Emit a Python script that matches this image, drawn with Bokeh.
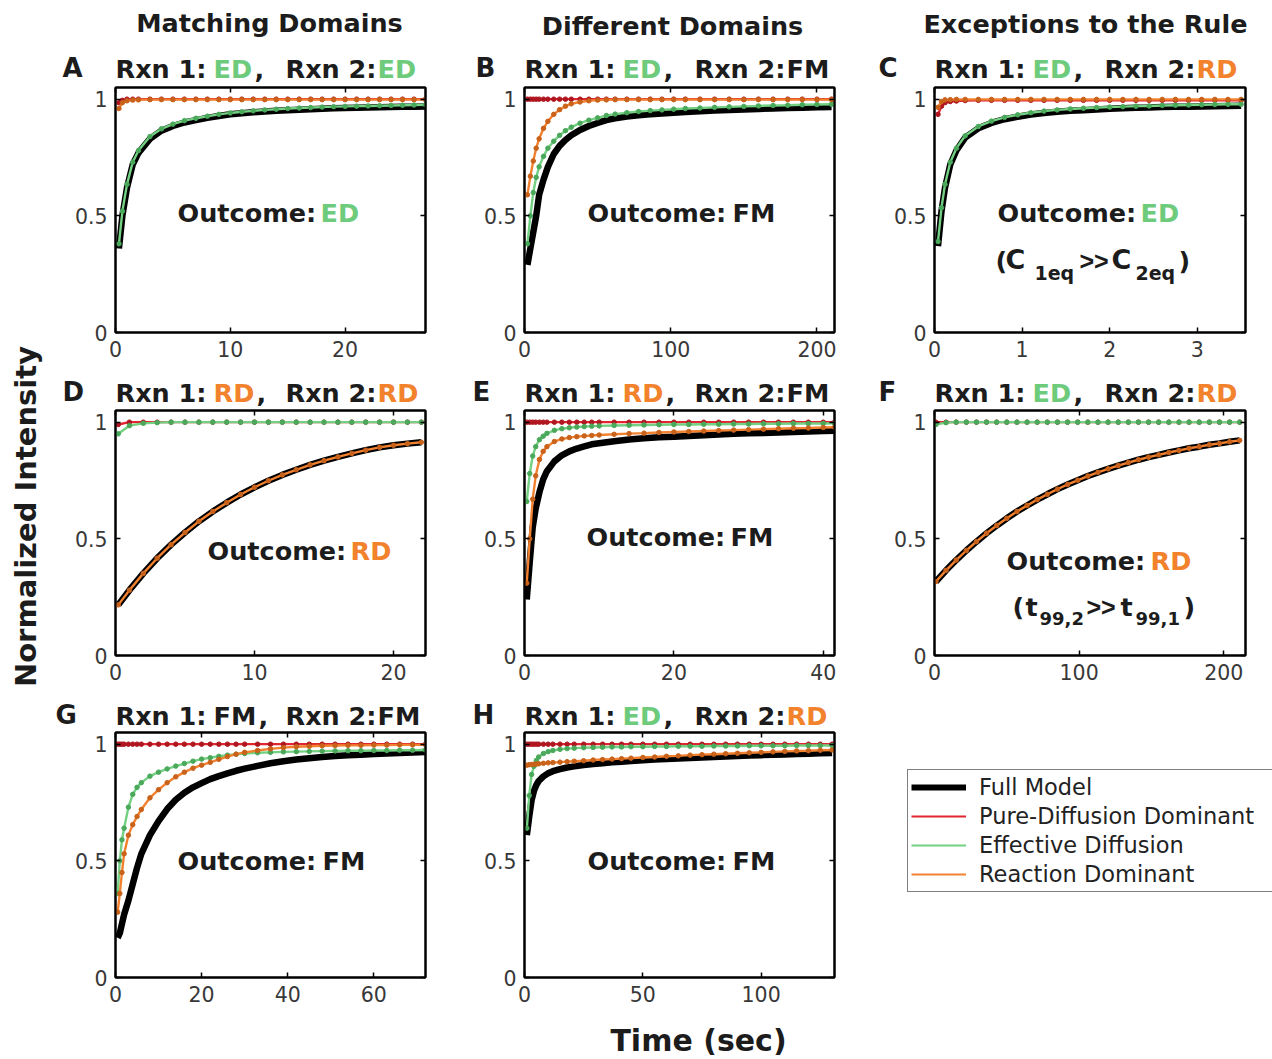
from math import pi
from bokeh.plotting import figure
from bokeh.models import Range1d, FixedTicker, LinearAxis, Label, Legend, LegendItem, Spacer
from bokeh.layouts import row, column
from bokeh.embed import file_html
from bokeh.resources import INLINE

# ---------------- data ----------------
series_names = ["Full Model", "Pure-Diffusion Dominant", "Effective Diffusion", "Reaction Dominant"]
y_ticks = [0, 0.5, 1]

# Panel A
t_A = [0.3, 0.6, 1.0, 1.5, 2, 3, 4, 5, 6, 7, 8, 9, 10, 11, 12, 13, 14, 15, 16, 17, 18, 19, 20, 21, 22, 23, 24, 25, 26, 27]
fm_A = [0.36, 0.50, 0.62, 0.72, 0.77, 0.83, 0.865, 0.885, 0.90, 0.91, 0.92, 0.928, 0.935, 0.94, 0.944, 0.947, 0.95, 0.953, 0.955, 0.957, 0.959, 0.961, 0.962, 0.963, 0.964, 0.965, 0.966, 0.967, 0.968, 0.969]
pd_A = [0.985, 0.995, 1.0, 1.0, 1.0, 1.0, 1.0, 1.0, 1.0, 1.0, 1.0, 1.0, 1.0, 1.0, 1.0, 1.0, 1.0, 1.0, 1.0, 1.0, 1.0, 1.0, 1.0, 1.0, 1.0, 1.0, 1.0, 1.0, 1.0, 1.0]
ed_A = [0.38, 0.52, 0.635, 0.73, 0.78, 0.84, 0.873, 0.893, 0.908, 0.918, 0.927, 0.935, 0.941, 0.946, 0.95, 0.954, 0.957, 0.96, 0.962, 0.964, 0.966, 0.968, 0.969, 0.97, 0.971, 0.972, 0.973, 0.974, 0.975, 0.976]
rd_A = [0.96, 0.985, 0.993, 0.996, 0.997, 0.998, 0.998, 0.998, 0.998, 0.998, 0.998, 0.998, 0.998, 0.998, 0.998, 0.998, 0.998, 0.998, 0.998, 0.998, 0.998, 0.998, 0.998, 0.998, 0.998, 0.998, 0.998, 0.998, 0.998, 0.998]
xticks_A = [0, 10, 20]

# Panel B
t_B = [2, 4, 6, 8, 10, 13, 16, 20, 24, 28, 32, 38, 44, 50, 56, 62, 70, 78, 86, 94, 102, 110, 120, 130, 140, 150, 160, 170, 180, 190, 200, 210]
fm_B = [0.29, 0.36, 0.43, 0.50, 0.59, 0.655, 0.71, 0.765, 0.80, 0.825, 0.845, 0.868, 0.885, 0.898, 0.91, 0.918, 0.926, 0.931, 0.935, 0.939, 0.942, 0.945, 0.948, 0.951, 0.954, 0.956, 0.958, 0.96, 0.962, 0.963, 0.965, 0.966]
pd_B = [1.0, 1.0, 1.0, 1.0, 1.0, 1.0, 1.0, 1.0, 1.0, 1.0, 1.0, 1.0, 1.0, 1.0, 1.0, 1.0, 1.0, 1.0, 1.0, 1.0, 1.0, 1.0, 1.0, 1.0, 1.0, 1.0, 1.0, 1.0, 1.0, 1.0, 1.0, 1.0]
ed_B = [0.38, 0.50, 0.60, 0.665, 0.71, 0.755, 0.79, 0.82, 0.845, 0.865, 0.88, 0.897, 0.91, 0.92, 0.93, 0.936, 0.942, 0.947, 0.951, 0.954, 0.957, 0.96, 0.962, 0.965, 0.967, 0.969, 0.971, 0.973, 0.974, 0.976, 0.977, 0.978]
rd_B = [0.59, 0.67, 0.735, 0.79, 0.83, 0.875, 0.905, 0.935, 0.955, 0.97, 0.98, 0.988, 0.993, 0.996, 0.997, 0.998, 0.998, 0.998, 0.998, 0.998, 0.998, 0.998, 0.998, 0.998, 0.998, 0.998, 0.998, 0.998, 0.998, 0.998, 0.998, 0.998]
xticks_B = [0, 100, 200]

# Panel C
t_C = [0.04, 0.08, 0.12, 0.18, 0.25, 0.35, 0.5, 0.65, 0.8, 0.95, 1.1, 1.25, 1.4, 1.55, 1.7, 1.85, 2.0, 2.15, 2.3, 2.45, 2.6, 2.75, 2.9, 3.05, 3.2, 3.35, 3.5]
fm_C = [0.37, 0.52, 0.62, 0.72, 0.78, 0.835, 0.875, 0.898, 0.914, 0.925, 0.934, 0.941, 0.946, 0.95, 0.953, 0.956, 0.959, 0.961, 0.963, 0.964, 0.966, 0.967, 0.968, 0.969, 0.97, 0.971, 0.972]
pd_C = [0.935, 0.97, 0.985, 0.99, 0.992, 0.994, 0.995, 0.995, 0.995, 0.995, 0.995, 0.995, 0.995, 0.995, 0.995, 0.995, 0.995, 0.995, 0.995, 0.995, 0.995, 0.995, 0.995, 0.995, 0.995, 0.995, 0.995]
ed_C = [0.39, 0.535, 0.635, 0.73, 0.79, 0.843, 0.883, 0.906, 0.922, 0.933, 0.942, 0.949, 0.954, 0.958, 0.961, 0.964, 0.966, 0.968, 0.97, 0.971, 0.973, 0.974, 0.975, 0.976, 0.977, 0.978, 0.978]
rd_C = [0.965, 0.99, 0.997, 0.998, 0.999, 0.999, 0.999, 0.999, 0.999, 0.999, 0.999, 0.999, 0.999, 0.999, 0.999, 0.999, 0.999, 0.999, 0.999, 0.999, 0.999, 0.999, 0.999, 0.999, 0.999, 0.999, 0.999]
xticks_C = [0, 1, 2, 3]

# Panel D
t_D = [0.2, 1, 2, 3, 4, 5, 6, 7, 8, 9, 10, 11, 12, 13, 14, 15, 16, 17, 18, 19, 20, 21, 22]
fm_D = [0.217, 0.28, 0.352, 0.417, 0.475, 0.527, 0.575, 0.617, 0.655, 0.69, 0.721, 0.749, 0.774, 0.796, 0.817, 0.835, 0.851, 0.866, 0.88, 0.892, 0.901, 0.908, 0.914]
pd_D = [0.99, 1.0, 1.0, 1.0, 1.0, 1.0, 1.0, 1.0, 1.0, 1.0, 1.0, 1.0, 1.0, 1.0, 1.0, 1.0, 1.0, 1.0, 1.0, 1.0, 1.0, 1.0, 1.0]
ed_D = [0.95, 0.985, 0.995, 0.998, 1.0, 1.0, 1.0, 1.0, 1.0, 1.0, 1.0, 1.0, 1.0, 1.0, 1.0, 1.0, 1.0, 1.0, 1.0, 1.0, 1.0, 1.0, 1.0]
rd_D = [0.217, 0.28, 0.352, 0.417, 0.475, 0.527, 0.575, 0.617, 0.655, 0.69, 0.721, 0.749, 0.774, 0.796, 0.817, 0.835, 0.851, 0.866, 0.88, 0.892, 0.901, 0.908, 0.914]
xticks_D = [0, 10, 20]

# Panel E
t_E = [0.3, 0.7, 1.1, 1.5, 2, 2.5, 3, 4, 5, 6, 7, 8, 9, 10, 12, 14, 16, 18, 20, 22, 24, 26, 28, 30, 32, 34, 36, 38, 40, 41.5]
fm_E = [0.24, 0.40, 0.55, 0.63, 0.70, 0.755, 0.79, 0.832, 0.858, 0.875, 0.887, 0.896, 0.905, 0.91, 0.918, 0.926, 0.931, 0.935, 0.938, 0.941, 0.944, 0.947, 0.95, 0.952, 0.954, 0.956, 0.958, 0.96, 0.962, 0.963]
pd_E = [1.0, 1.0, 1.0, 1.0, 1.0, 1.0, 1.0, 1.0, 1.0, 1.0, 1.0, 1.0, 1.0, 1.0, 1.0, 1.0, 1.0, 1.0, 1.0, 1.0, 1.0, 1.0, 1.0, 1.0, 1.0, 1.0, 1.0, 1.0, 1.0, 1.0]
ed_E = [0.66, 0.78, 0.855, 0.895, 0.925, 0.94, 0.952, 0.965, 0.972, 0.976, 0.979, 0.981, 0.983, 0.984, 0.986, 0.987, 0.988, 0.989, 0.99, 0.99, 0.991, 0.991, 0.992, 0.992, 0.993, 0.993, 0.994, 0.994, 0.994, 0.995]
rd_E = [0.31, 0.50, 0.67, 0.77, 0.84, 0.875, 0.895, 0.917, 0.928, 0.934, 0.938, 0.941, 0.943, 0.945, 0.948, 0.951, 0.953, 0.956, 0.958, 0.96, 0.962, 0.964, 0.966, 0.968, 0.97, 0.972, 0.974, 0.975, 0.977, 0.978]
xticks_E = [0, 20, 40]

# Panel F
t_F = [1, 8, 15, 22, 29, 36, 43, 50, 57, 64, 71, 78, 85, 92, 99, 106, 113, 120, 127, 134, 141, 148, 155, 162, 169, 176, 183, 190, 197, 204, 211]
fm_F = [0.317, 0.365, 0.409, 0.45, 0.488, 0.524, 0.557, 0.588, 0.617, 0.643, 0.668, 0.691, 0.713, 0.733, 0.751, 0.769, 0.785, 0.80, 0.814, 0.827, 0.839, 0.85, 0.86, 0.87, 0.879, 0.888, 0.895, 0.903, 0.909, 0.916, 0.922]
pd_F = [1.0, 1.0, 1.0, 1.0, 1.0, 1.0, 1.0, 1.0, 1.0, 1.0, 1.0, 1.0, 1.0, 1.0, 1.0, 1.0, 1.0, 1.0, 1.0, 1.0, 1.0, 1.0, 1.0, 1.0, 1.0, 1.0, 1.0, 1.0, 1.0, 1.0, 1.0]
ed_F = [0.99, 0.998, 1.0, 1.0, 1.0, 1.0, 1.0, 1.0, 1.0, 1.0, 1.0, 1.0, 1.0, 1.0, 1.0, 1.0, 1.0, 1.0, 1.0, 1.0, 1.0, 1.0, 1.0, 1.0, 1.0, 1.0, 1.0, 1.0, 1.0, 1.0, 1.0]
rd_F = [0.317, 0.365, 0.409, 0.45, 0.488, 0.524, 0.557, 0.588, 0.617, 0.643, 0.668, 0.691, 0.713, 0.733, 0.751, 0.769, 0.785, 0.80, 0.814, 0.827, 0.839, 0.85, 0.86, 0.87, 0.879, 0.888, 0.895, 0.903, 0.909, 0.916, 0.922]
xticks_F = [0, 100, 200]

# Panel G
t_G = [0.5, 1, 1.5, 2, 3, 4, 5, 6, 8, 10, 12, 14, 16, 18, 20, 22, 24, 26, 28, 30, 33, 36, 39, 42, 45, 48, 51, 54, 57, 60, 63, 66, 69, 72]
fm_G = [0.17, 0.19, 0.23, 0.27, 0.33, 0.40, 0.47, 0.53, 0.61, 0.67, 0.722, 0.762, 0.792, 0.815, 0.833, 0.85, 0.863, 0.875, 0.886, 0.895, 0.907, 0.918, 0.927, 0.934, 0.94, 0.945, 0.949, 0.952, 0.955, 0.958, 0.96, 0.962, 0.964, 0.966]
pd_G = [1.0, 1.0, 1.0, 1.0, 1.0, 1.0, 1.0, 1.0, 1.0, 1.0, 1.0, 1.0, 1.0, 1.0, 1.0, 1.0, 1.0, 1.0, 1.0, 1.0, 1.0, 1.0, 1.0, 1.0, 1.0, 1.0, 1.0, 1.0, 1.0, 1.0, 1.0, 1.0, 1.0, 1.0]
ed_G = [0.36, 0.50, 0.59, 0.64, 0.73, 0.785, 0.815, 0.835, 0.863, 0.88, 0.894, 0.906, 0.917, 0.927, 0.936, 0.942, 0.948, 0.953, 0.957, 0.96, 0.963, 0.965, 0.967, 0.968, 0.969, 0.97, 0.971, 0.972, 0.972, 0.973, 0.973, 0.974, 0.974, 0.975]
rd_G = [0.28, 0.36, 0.45, 0.53, 0.61, 0.655, 0.69, 0.72, 0.77, 0.805, 0.835, 0.86, 0.88, 0.897, 0.91, 0.922, 0.935, 0.947, 0.957, 0.965, 0.973, 0.98, 0.985, 0.989, 0.991, 0.993, 0.994, 0.995, 0.995, 0.996, 0.996, 0.997, 0.997, 0.997]
xticks_G = [0, 20, 40, 60]

# Panel H
t_H = [1, 2, 3, 4, 5, 6, 8, 10, 12, 15, 18, 21, 25, 29, 33, 37, 41, 45, 50, 55, 60, 65, 70, 75, 80, 85, 90, 95, 100, 105, 110, 115, 120, 125, 130]
fm_H = [0.61, 0.69, 0.76, 0.80, 0.825, 0.842, 0.862, 0.875, 0.884, 0.893, 0.90, 0.905, 0.911, 0.915, 0.918, 0.922, 0.925, 0.928, 0.931, 0.934, 0.936, 0.939, 0.941, 0.943, 0.945, 0.947, 0.949, 0.951, 0.953, 0.955, 0.956, 0.958, 0.959, 0.961, 0.962]
pd_H = [1.0, 1.0, 1.0, 1.0, 1.0, 1.0, 1.0, 1.0, 1.0, 1.0, 1.0, 1.0, 1.0, 1.0, 1.0, 1.0, 1.0, 1.0, 1.0, 1.0, 1.0, 1.0, 1.0, 1.0, 1.0, 1.0, 1.0, 1.0, 1.0, 1.0, 1.0, 1.0, 1.0, 1.0, 1.0]
ed_H = [0.64, 0.78, 0.87, 0.905, 0.93, 0.945, 0.96, 0.968, 0.973, 0.978, 0.981, 0.983, 0.985, 0.986, 0.987, 0.988, 0.988, 0.989, 0.989, 0.99, 0.99, 0.991, 0.991, 0.991, 0.992, 0.992, 0.992, 0.993, 0.993, 0.993, 0.993, 0.994, 0.994, 0.994, 0.994]
rd_H = [0.91, 0.912, 0.913, 0.914, 0.915, 0.916, 0.918, 0.92, 0.921, 0.923, 0.925, 0.927, 0.929, 0.932, 0.934, 0.936, 0.938, 0.94, 0.943, 0.945, 0.948, 0.95, 0.953, 0.955, 0.957, 0.959, 0.961, 0.963, 0.965, 0.967, 0.969, 0.971, 0.972, 0.974, 0.975]
xticks_H = [0, 50, 100]

x_max = {"A": 27, "B": 212, "C": 3.55, "D": 22.3, "E": 41.5, "F": 215, "G": 72, "H": 131}
rxn_codes = {"A": ("ED", "ED"), "B": ("ED", "FM"), "C": ("ED", "RD"), "D": ("RD", "RD"),
             "E": ("RD", "FM"), "F": ("ED", "RD"), "G": ("FM", "FM"), "H": ("ED", "RD")}
outcome_codes = {"A": "ED", "B": "FM", "C": "ED", "D": "RD", "E": "FM", "F": "RD", "G": "FM", "H": "FM"}
column_titles = ["Matching Domains", "Different Domains", "Exceptions to the Rule"]

# ---------------- styling / layout ----------------
W, H = 1272, 1059
FONT = "DejaVu Sans"
TXT = "#1c1c1c"
TICK = "#383838"
RED, RED_M = "#e0262f", "#b01620"
GREEN, GREEN_M = "#74d082", "#4aa95b"
ORANGE, ORANGE_M = "#f28230", "#c9621a"
CODE_COLOR = {"ED": "#6dcb7b", "RD": "#f2822c", "FM": TXT}
BASE_SHIFT = 0.39   # em; compensates where the renderer puts the alphabetic baseline

col_w = [430, 410, 432]
col_ml = [115, 94, 94]
col_mr = [5, 6, 27]
col_fl = [115, 524, 934]      # absolute frame left
row_h = [367, 323, 369]
row_mt = [87, 43, 42]
row_mb = [35, 35, 82]

# transparent overlay that carries all free texts and the legend
ov = figure(width=W, height=H, x_range=Range1d(0, W), y_range=Range1d(0, H),
            output_backend="svg", toolbar_location=None, min_border=0,
            x_axis_type=None, y_axis_type=None,
            styles={"position": "absolute", "left": "0px", "top": "0px",
                    "z-index": "10", "pointer-events": "none"})
ov.outline_line_color = None
ov.grid.visible = False
ov.background_fill_color = None
ov.border_fill_color = None


def add_text(x, y, text, color=TXT, size=25.5, bold=True,
             font=FONT, align="left", angle=0.0):
    shift = BASE_SHIFT * size
    if angle == 0.0:
        sx, sy = x, H - (y - shift)
    else:
        sx, sy = x - shift, H - y
    ov.add_layout(Label(x=sx, y=sy, x_units="screen", y_units="screen",
                        text=text, text_color=color, text_font=font,
                        text_font_size=f"{size}px", text_font_style="bold" if bold else "normal",
                        text_align=align, text_baseline="alphabetic", angle=angle))


def style_axis(ax, ticks):
    ax.ticker = FixedTicker(ticks=ticks)
    ax.major_tick_in = 5
    ax.major_tick_out = 0
    ax.minor_tick_in = 0
    ax.minor_tick_out = 0
    ax.axis_line_width = 2
    ax.axis_line_color = "black"
    ax.major_tick_line_width = 1.5
    ax.major_tick_line_color = "black"
    ax.major_label_text_font = FONT
    ax.major_label_text_font_size = "20.5px"
    ax.major_label_text_color = TICK
    ax.major_label_standoff = 8


def tick_only_axis(ticks):
    ax = LinearAxis(ticker=FixedTicker(ticks=[], minor_ticks=ticks))
    ax.major_tick_in = 0
    ax.major_tick_out = 0
    ax.minor_tick_in = 5
    ax.minor_tick_out = 0
    ax.minor_tick_line_width = 1.5
    ax.minor_tick_line_color = "black"
    ax.axis_line_width = 2
    ax.axis_line_color = "black"
    ax.major_label_standoff = 0
    return ax


def make_panel(key, ci, ri, t, fm, pd, ed, rd, xticks):
    p = figure(width=col_w[ci], height=row_h[ri],
               x_range=Range1d(0, x_max[key]), y_range=Range1d(0, 1.05),
               output_backend="svg", toolbar_location=None,
               min_border_left=col_ml[ci], min_border_right=col_mr[ci],
               min_border_top=row_mt[ri], min_border_bottom=row_mb[ri])
    p.xgrid.visible = False
    p.ygrid.visible = False
    p.outline_line_color = "black"
    p.outline_line_width = 2
    p.outline_line_alpha = 1
    style_axis(p.xaxis[0], xticks)
    style_axis(p.yaxis[0], y_ticks)
    p.yaxis[0].major_label_overrides = {0: "0", 0.5: "0.5", 1: "1"}
    p.add_layout(tick_only_axis(xticks), "above")
    p.add_layout(tick_only_axis(y_ticks), "right")

    p.line(t, fm, color="black", line_width=6.5)
    for ys, c, mc in [(pd, RED, RED_M), (ed, GREEN, GREEN_M), (rd, ORANGE, ORANGE_M)]:
        p.line(t, ys, color=c, line_width=2.4)
        p.scatter(t, ys, size=4.5, fill_color=mc, line_color=mc)
    return p


panel_defs = [
    ("A", 0, 0, t_A, fm_A, pd_A, ed_A, rd_A, xticks_A),
    ("B", 1, 0, t_B, fm_B, pd_B, ed_B, rd_B, xticks_B),
    ("C", 2, 0, t_C, fm_C, pd_C, ed_C, rd_C, xticks_C),
    ("D", 0, 1, t_D, fm_D, pd_D, ed_D, rd_D, xticks_D),
    ("E", 1, 1, t_E, fm_E, pd_E, ed_E, rd_E, xticks_E),
    ("F", 2, 1, t_F, fm_F, pd_F, ed_F, rd_F, xticks_F),
    ("G", 0, 2, t_G, fm_G, pd_G, ed_G, rd_G, xticks_G),
    ("H", 1, 2, t_H, fm_H, pd_H, ed_H, rd_H, xticks_H),
]

letter_pos = {"A": (62, 78), "B": (475, 78), "C": (878, 78), "D": (62, 402),
              "E": (472, 402), "F": (878, 402), "G": (55, 725), "H": (472, 725)}
outcome_pos = {"A": (177, 320, 222), "B": (587, 732, 222), "C": (997, 1140, 222),
               "D": (207, 350, 560), "E": (586, 730, 546), "F": (1006, 1150, 570),
               "G": (177, 322, 870), "H": (587, 732, 870)}
comma_off = {"ED": 139, "RD": 141, "FM": 143}
title_pos = [(269, 32), (672, 35), (1085, 33)]

panels = {}
for key, ci, ri, t, fm, pd, ed, rd, xt in panel_defs:
    panels[key] = make_panel(key, ci, ri, t, fm, pd, ed, rd, xt)
    fl = col_fl[ci]
    lx, ly = letter_pos[key]
    add_text(lx, ly, key, size=26)
    c1, c2 = rxn_codes[key]
    add_text(fl + 0, ly, "Rxn 1:")
    add_text(fl + 98, ly, c1, color=CODE_COLOR[c1])
    add_text(fl + comma_off[c1], ly, ",")
    add_text(fl + 170, ly, "Rxn 2:")
    add_text(fl + 262, ly, c2, color=CODE_COLOR[c2])
    ox, cx, oy = outcome_pos[key]
    oc = outcome_codes[key]
    add_text(ox, oy, "Outcome:")
    add_text(cx, oy, oc, color=CODE_COLOR[oc])
    if ri == 0:
        tx, ty = title_pos[ci]
        add_text(tx, ty, column_titles[ci], align="center")

# second text lines of panels C and F
add_text(995, 270, "(")
add_text(1005, 270, "C", size=27)
add_text(1034, 280, "1eq", size=19)
add_text(1079, 270, ">>", font="Liberation Sans", size=25)
add_text(1111, 270, "C", size=27)
add_text(1135, 280, "2eq", size=19)
add_text(1178, 270, ")")

add_text(1012, 616, "(")
add_text(1025, 616, "t")
add_text(1039, 625, "99,2", size=18)
add_text(1086, 616, ">>", font="Liberation Sans", size=25)
add_text(1120, 616, "t")
add_text(1135, 625, "99,1", size=18)
add_text(1183, 616, ")")

# axis titles
add_text(698, 1052, "Time (sec)", size=30, align="center")
add_text(37, 516, "Normalized Intensity", size=29, align="center", angle=pi / 2)

# legend (drawn on the overlay; its sample lines hold a single NaN so nothing is plotted)
nan = float("nan")
r_fm = ov.line(x=[nan], y=[nan], color="black", line_width=6)
r_pd = ov.line(x=[nan], y=[nan], color=RED, line_width=2)
r_ed = ov.line(x=[nan], y=[nan], color=GREEN, line_width=2)
r_rd = ov.line(x=[nan], y=[nan], color=ORANGE, line_width=2)
legend = Legend(items=[LegendItem(label=series_names[0], renderers=[r_fm]),
                       LegendItem(label=series_names[1], renderers=[r_pd]),
                       LegendItem(label=series_names[2], renderers=[r_ed]),
                       LegendItem(label=series_names[3], renderers=[r_rd])],
                location=(907, H - 892), orientation="vertical",
                label_text_font=FONT, label_text_font_size="22.5px", label_text_color="#222222",
                glyph_width=55, glyph_height=28, label_height=28, label_width=310,
                label_standoff=13, spacing=1, padding=3, margin=0,
                border_line_color="black", border_line_width=1.5,
                background_fill_color="white", background_fill_alpha=1)
ov.add_layout(legend)

grid = column(row(panels["A"], panels["B"], panels["C"]),
              row(panels["D"], panels["E"], panels["F"]),
              row(panels["G"], panels["H"], Spacer(width=432, height=369)),
              ov)

open("out.html", "w").write(file_html(grid, INLINE))
